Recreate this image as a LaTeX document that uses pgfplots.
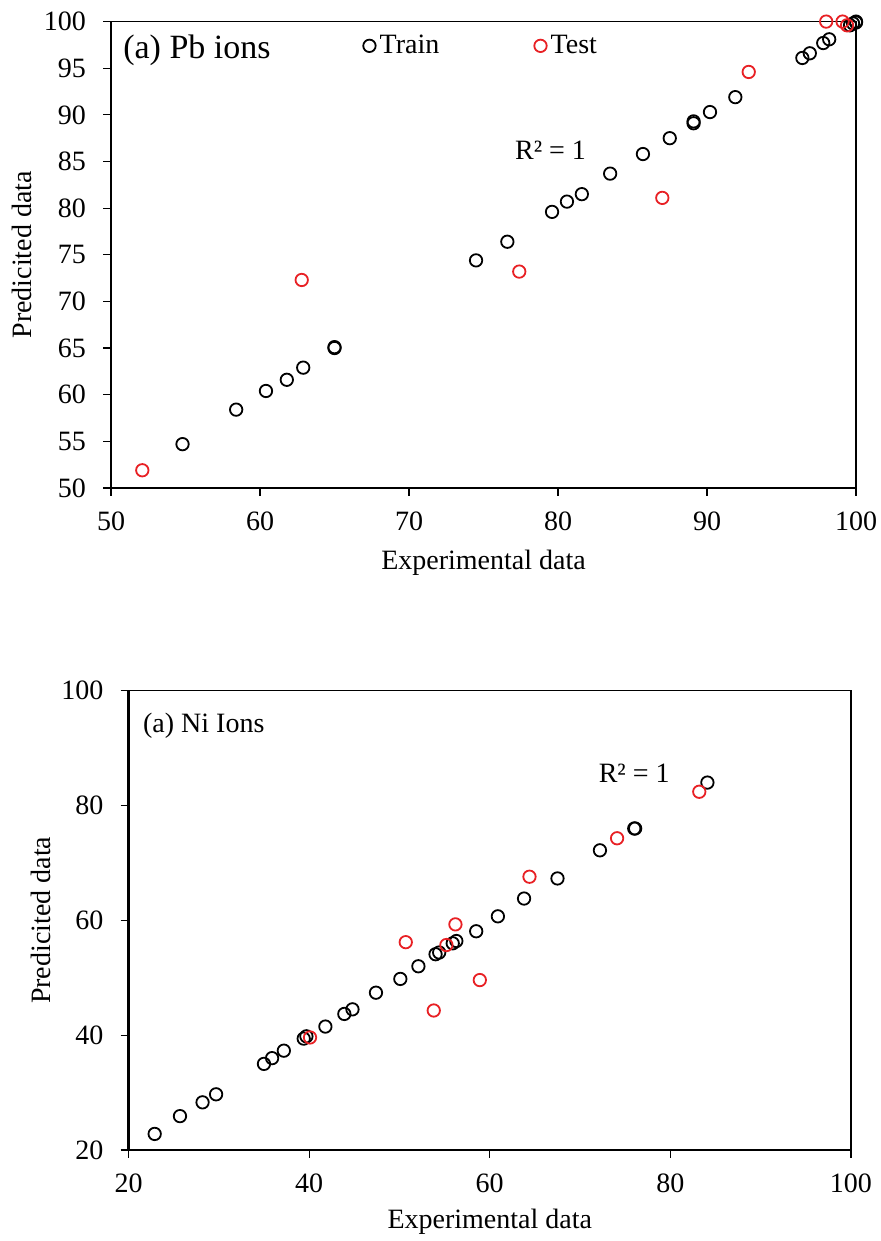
\documentclass[border=0pt]{standalone}
\usepackage{fontspec}
\setmainfont{Liberation Serif}
\usepackage{pgfplots}
\pgfplotsset{compat=1.18}

\definecolor{testred}{RGB}{232,32,36}

\pgfplotsset{
  fitplot/.style={
    scale only axis,
    clip=false,
    axis line style={line width=0.6pt},
    tick align=outside,
    major tick length=4pt,
    tick style={line width=0.6pt, black},
    xtick pos=bottom, ytick pos=left,
    font=\fontsize{14}{16}\selectfont,
    /pgf/number format/assume math mode=true,
    xticklabel shift=4.5pt,
    yticklabel shift=5pt,
    xlabel={Experimental data},
    ylabel={Predicited data},
  },
  train/.style={only marks, mark=o, mark size=3.1pt, black, mark options={line width=0.9pt}},
  test/.style={only marks, mark=o, mark size=3.1pt, testred, mark options={line width=0.9pt}},
}

\begin{document}
\begin{tikzpicture}
\path[use as bounding box] (0,0) rectangle (440pt,620.5pt);

% ---- top: Pb ions ----
\begin{axis}[fitplot,
  at={(55.5pt,376.5pt)}, anchor=south west,
  width=372.5pt, height=233.2pt,
  xmin=50, xmax=100, ymin=50, ymax=100,
  xtick={50,60,...,100}, ytick={50,55,...,100},
  every axis x label/.style={at={(rel axis cs:0.5,0)}, anchor=center, yshift=-37.5pt},
  every axis y label/.style={at={(rel axis cs:0,0.5)}, anchor=center, xshift=-44.5pt, rotate=90},
  legend style={at={(rel axis cs:0.33,0.948)}, anchor=west, draw=none, fill=none,
    legend columns=2, font=\fontsize{14}{16}\selectfont,
    /tikz/every even column/.append style={column sep=45.5pt}},
]
\addplot[train] coordinates {
(54.8,54.7) (58.4,58.4) (60.4,60.4) (61.8,61.6) (62.9,62.9) (65.0,65.0) (65.0,65.1)
(74.5,74.4) (76.6,76.4) (79.6,79.6) (80.6,80.7) (81.6,81.5) (83.5,83.7) (85.7,85.8)
(87.5,87.5) (89.1,89.1) (89.1,89.3) (90.2,90.3) (91.9,91.9) (96.4,96.1) (96.9,96.6)
(97.8,97.7) (98.2,98.1) (99.6,99.6) (99.8,99.8) (100,100) (100,99.9)
};
\addlegendentry{Train}
\addplot[test] coordinates {
(52.1,51.9) (62.8,72.3) (77.4,73.2) (87.0,81.1) (92.8,94.6) (98.0,100) (99.1,100) (99.4,99.6)
};
\addlegendentry{Test}
\draw[line width=1.4pt] (rel axis cs:0,1) -- (rel axis cs:0,0) -- (rel axis cs:1,0);
\node[anchor=west, font=\fontsize{17}{20}\selectfont] at (rel axis cs:0.007,0.939) {(a) Pb ions};
\node at (rel axis cs:0.59,0.725) {R² = 1};
\end{axis}

% ---- bottom: Ni ions ----
\begin{axis}[fitplot,
  at={(64.25pt,45.5pt)}, anchor=south west,
  width=361.25pt, height=229.65pt,
  xmin=20, xmax=100, ymin=20, ymax=100,
  xtick={20,40,...,100}, ytick={20,40,...,100},
  every axis x label/.style={at={(rel axis cs:0.5,0)}, anchor=center, yshift=-36pt},
  every axis y label/.style={at={(rel axis cs:0,0.5)}, anchor=center, xshift=-44pt, rotate=90},
]
\addplot[train] coordinates {
(22.9,22.8) (25.7,25.9) (28.2,28.3) (29.7,29.7) (35.0,35.0) (35.9,36.0) (37.2,37.3)
(39.4,39.4) (39.7,39.8) (41.8,41.5) (43.9,43.7) (44.8,44.5) (47.4,47.4) (50.1,49.8)
(52.1,52.0) (54.0,54.1) (54.4,54.4) (55.9,56.0) (56.3,56.4) (58.5,58.1) (60.9,60.7)
(63.8,63.8) (67.5,67.3) (72.2,72.2) (76.0,76.0) (76.1,76.0) (84.1,84.0)
};
\addplot[test] coordinates {
(40.1,39.6) (50.7,56.2) (53.8,44.3) (55.2,55.7) (56.2,59.3) (58.9,49.6) (64.4,67.6)
(74.1,74.3) (83.2,82.4)
};
\draw[line width=1.4pt] (rel axis cs:0,1) -- (rel axis cs:0,0) -- (rel axis cs:1,0);
\node[anchor=west] at (rel axis cs:0.0105,0.923) {(a) Ni Ions};
\node at (rel axis cs:0.70,0.821) {R² = 1};
\end{axis}
\end{tikzpicture}
\end{document}
